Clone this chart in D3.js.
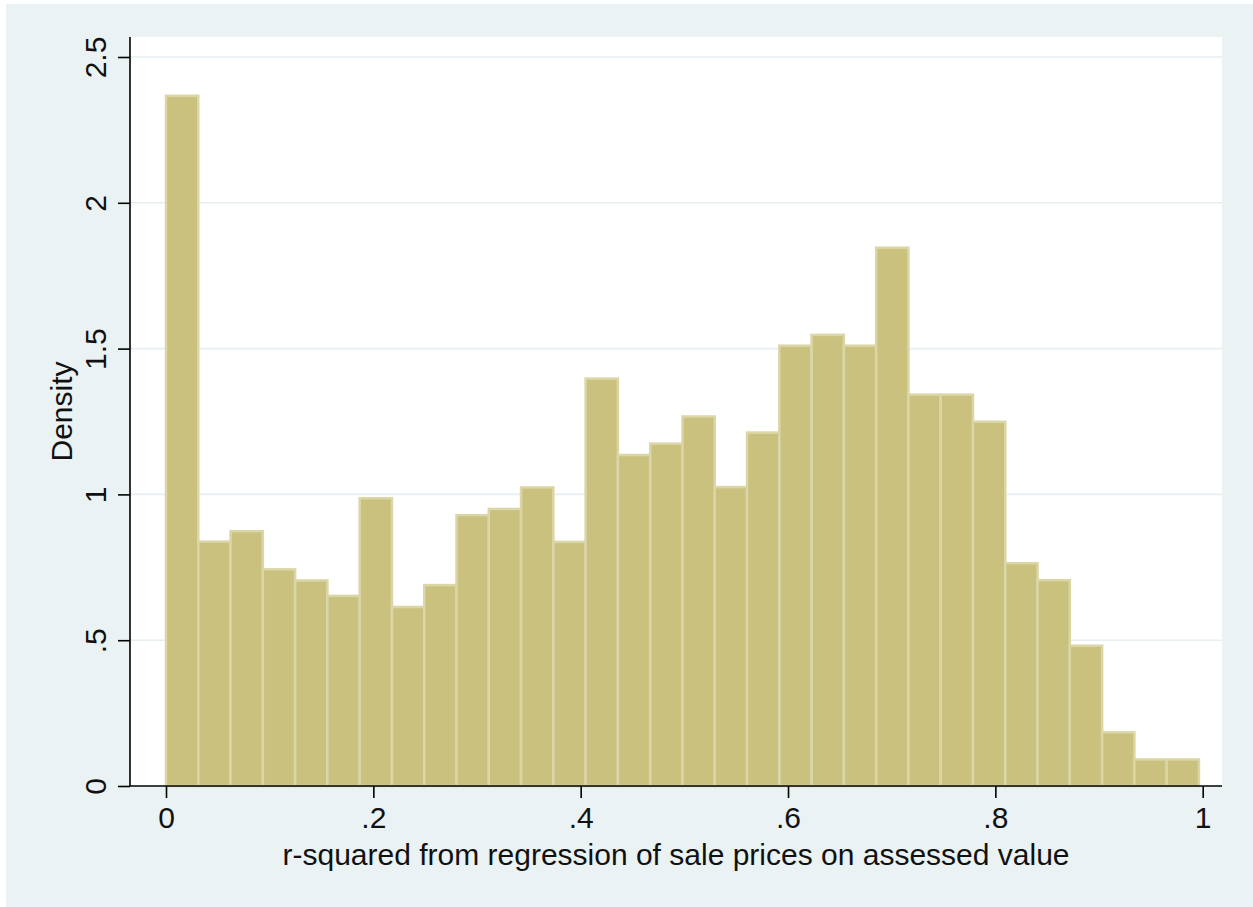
<!DOCTYPE html>
<html>
<head>
<meta charset="utf-8">
<script src="https://cdn.jsdelivr.net/npm/d3@7"></script>
<style>
  html, body { margin: 0; padding: 0; background: #ffffff; }
  svg { display: block; }
  text { font-family: "Liberation Sans", Arial, Helvetica, sans-serif; fill: #111; }
</style>
</head>
<body>
<svg id="chart" width="1253" height="907"></svg>
<script>
// ---- data ----
const binStart = 0.0;
const binWidth = 0.031137;
const densities = [2.367, 0.838, 0.874, 0.743, 0.705, 0.652, 0.987, 0.614, 0.689, 0.929,
                   0.950, 1.024, 0.837, 1.397, 1.135, 1.174, 1.267, 1.025, 1.212, 1.510,
                   1.547, 1.510, 1.846, 1.342, 1.342, 1.249, 0.764, 0.706, 0.481, 0.184,
                   0.091, 0.091];
const xTicks = [0, 0.2, 0.4, 0.6, 0.8, 1];
const xTickLabels = ["0", ".2", ".4", ".6", ".8", "1"];
const yTicks = [0, 0.5, 1, 1.5, 2, 2.5];
const yTickLabels = ["0", ".5", "1", "1.5", "2", "2.5"];
const xTitle = "r-squared from regression of sale prices on assessed value";
const yTitle = "Density";

// ---- layout ----
const svg = d3.select("#chart");
const plot = {left: 130, right: 1222, top: 37, bottom: 786};
const fontSize = 30;

const x = d3.scaleLinear().domain([0, 1]).range([166, 1202.7]);
const y = d3.scaleLinear().domain([0, 2.5]).range([786, 57]);

// graph region background
svg.append("rect").attr("x", 6).attr("y", 4).attr("width", 1253 - 6).attr("height", 907 - 4)
  .attr("fill", "#eaf2f3");
// plot region
svg.append("rect").attr("x", plot.left).attr("y", plot.top)
  .attr("width", plot.right - plot.left).attr("height", plot.bottom - plot.top)
  .attr("fill", "#ffffff");

// gridlines
svg.append("g").selectAll("line").data(yTicks.filter(d => d > 0)).join("line")
  .attr("x1", plot.left).attr("x2", plot.right)
  .attr("y1", d => y(d)).attr("y2", d => y(d))
  .attr("stroke", "#e6eef1").attr("stroke-width", 1.6);

// bars
const bins = densities.map((v, i) => ({x0: binStart + i * binWidth, x1: binStart + (i + 1) * binWidth, v}));
svg.append("g").selectAll("rect").data(bins).join("rect")
  .attr("x", d => x(d.x0))
  .attr("width", d => x(d.x1) - x(d.x0))
  .attr("y", d => y(d.v))
  .attr("height", d => y(0) - y(d.v))
  .attr("fill", "#cac17f")
  .attr("stroke", "#dbd6a6")
  .attr("stroke-width", 2.5);

// y axis
const yAxis = d3.axisLeft(y).tickValues(yTicks).tickFormat((d, i) => yTickLabels[i])
  .tickSize(12).tickSizeOuter(0).tickPadding(12);
const gy = svg.append("g").attr("transform", `translate(${plot.left},0)`).call(yAxis);
gy.select(".domain").remove();
gy.append("line").attr("x1", 0).attr("x2", 0).attr("y1", plot.top).attr("y2", plot.bottom)
  .attr("stroke", "#000").attr("stroke-width", 1.6);
gy.selectAll(".tick line").attr("stroke", "#000").attr("stroke-width", 1.6);
gy.selectAll(".tick text")
  .attr("font-size", fontSize)
  .attr("fill", "#111")
  .attr("x", null).attr("dy", null)
  .attr("text-anchor", "middle")
  .attr("transform", "translate(-24,0) rotate(-90)");

// x axis
const xAxis = d3.axisBottom(x).tickValues(xTicks).tickFormat((d, i) => xTickLabels[i])
  .tickSize(12).tickSizeOuter(0).tickPadding(10);
const gx = svg.append("g").attr("transform", `translate(0,${plot.bottom})`).call(xAxis);
gx.select(".domain").remove();
gx.append("line").attr("x1", plot.left).attr("x2", plot.right).attr("y1", 0).attr("y2", 0)
  .attr("stroke", "#000").attr("stroke-width", 1.6);
gx.selectAll(".tick line").attr("stroke", "#000").attr("stroke-width", 1.6);
gx.selectAll(".tick text").attr("font-size", fontSize).attr("fill", "#111")
  .attr("y", null).attr("dy", null)
  .attr("transform", "translate(0,42)");

// axis titles
svg.append("text")
  .attr("x", (plot.left + plot.right) / 2).attr("y", 865)
  .attr("text-anchor", "middle").attr("font-size", fontSize)
  .text(xTitle);
svg.append("text")
  .attr("transform", `translate(72,${(plot.top + plot.bottom) / 2}) rotate(-90)`)
  .attr("text-anchor", "middle").attr("font-size", fontSize)
  .text(yTitle);
</script>
</body>
</html>
